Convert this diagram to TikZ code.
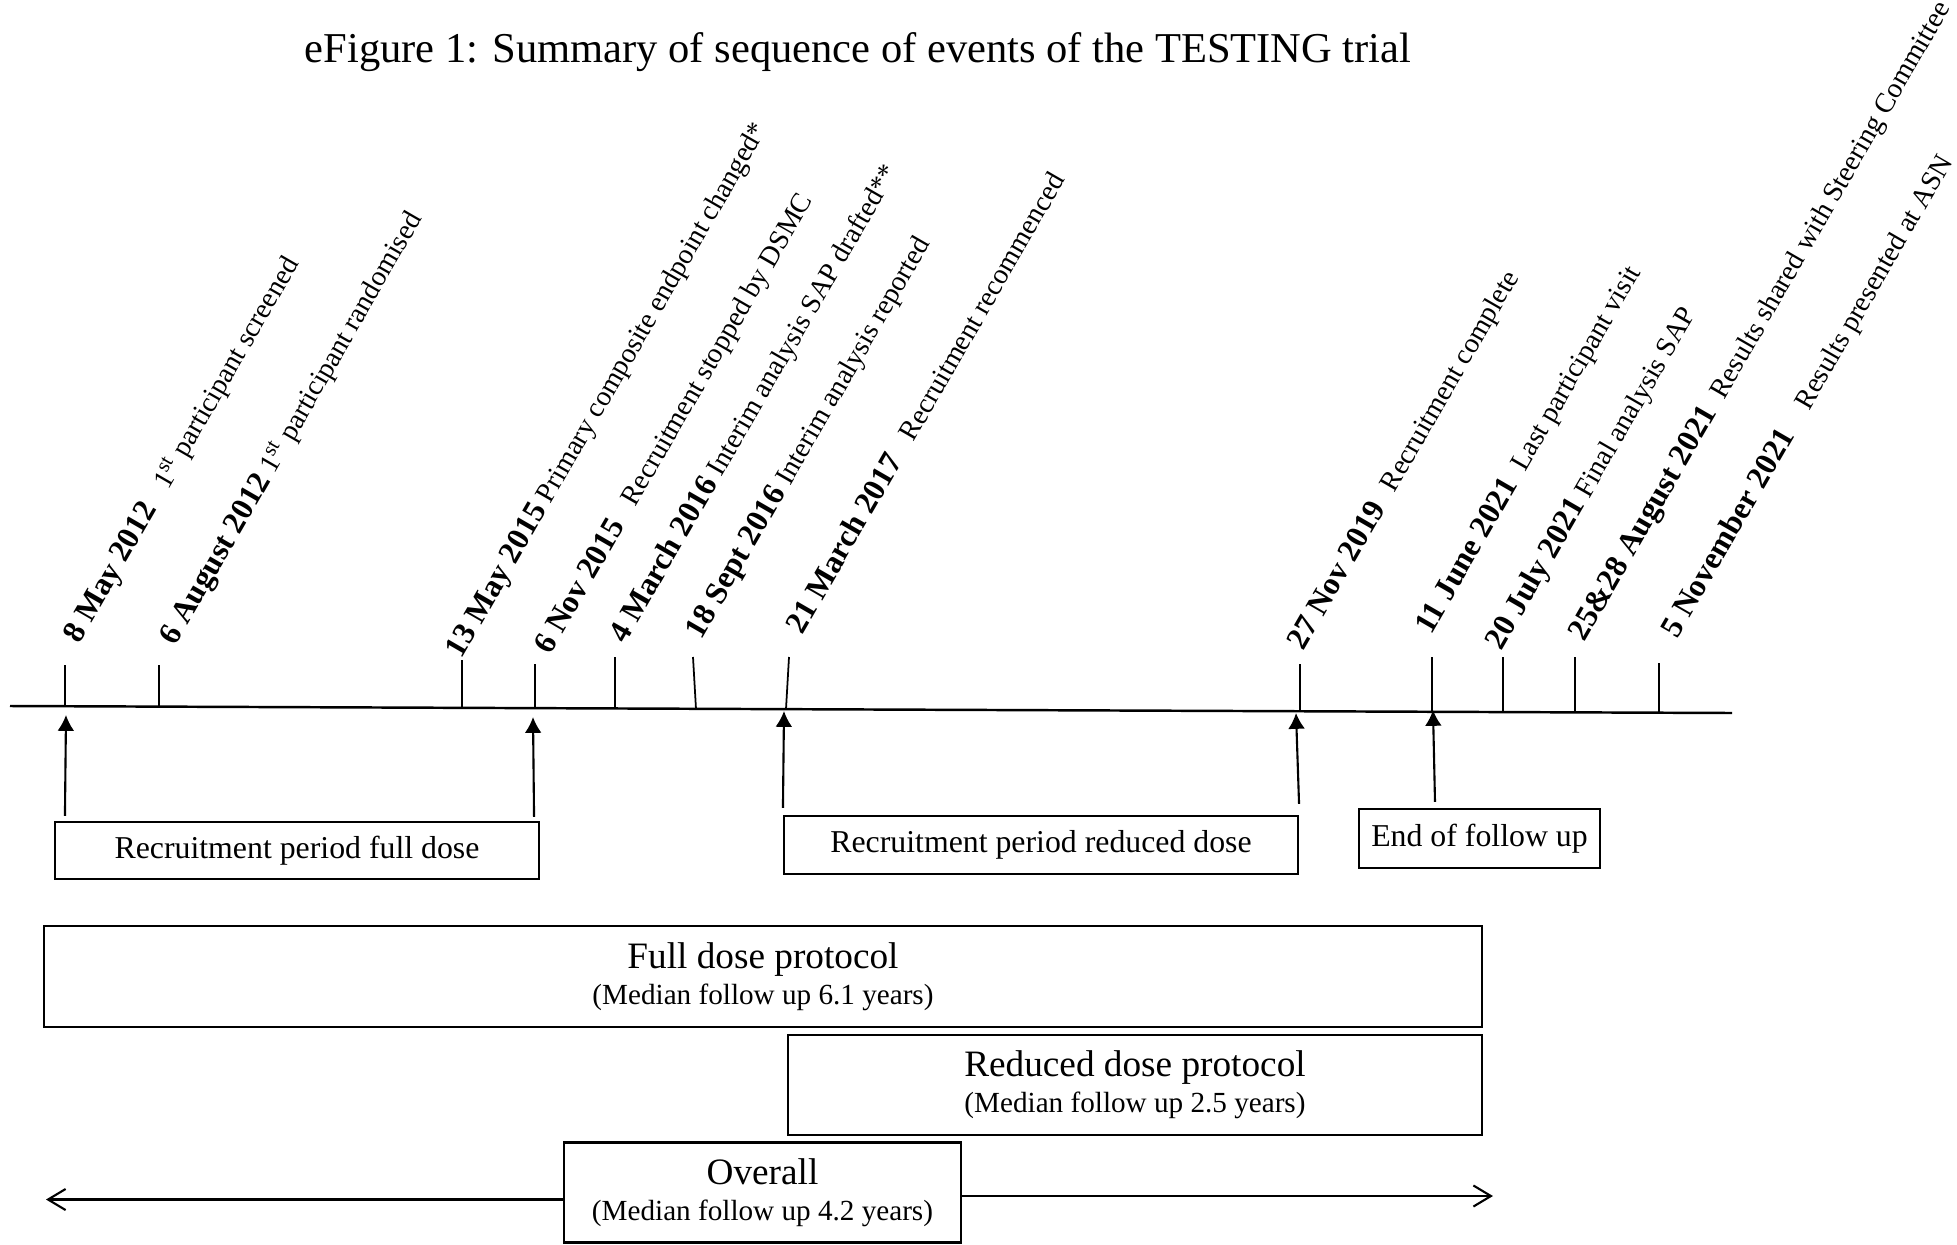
\documentclass[tikz,border=0pt]{standalone}
\usepackage{fontspec}
\setmainfont{Liberation Serif}
\usetikzlibrary{arrows.meta}

\tikzset{
  evlabel/.style={rotate=60, anchor=base west, inner sep=0pt, font=\fontsize{8}{10}\selectfont},
  periodbox/.style={draw, line width=0.6pt, inner sep=0pt, font=\fontsize{9.05}{11}\selectfont},
  protobox/.style={draw, line width=0.6pt, fill=white, inner sep=0pt, align=center, font=\fontsize{10.6}{10.2}\selectfont},
  uparrow/.style={-{Latex[length=4.5pt,width=4.8pt]}, line width=0.6pt},
  overarrow/.style={-{Straight Barb[length=5pt,width=6pt]}, line width=0.6pt},
}
\newcommand{\evdate}[1]{{\fontsize{9}{10}\selectfont\bfseries #1}}
\newcommand{\medfu}[1]{{\fontsize{8.3}{10.2}\selectfont (Median follow up #1 years)}}

\begin{document}
\begin{tikzpicture}
\useasboundingbox (0,0) rectangle (19.57,-12.44);

% Title
\node[anchor=base, font=\fontsize{12.1}{14}\selectfont] (title) at (8.58,-0.62) {eFigure 1: Summary of sequence of events of the TESTING trial};

% Time line
\coordinate (axL) at (0.10,-7.06);
\coordinate (axR) at (17.32,-7.13);
\draw[line width=0.7pt] (axL) -- (axR);

% Tick marks
\draw[line width=0.5pt] (0.65,-6.65) -- (0.65,-7.06);
\draw[line width=0.5pt] (1.59,-6.65) -- (1.59,-7.06);
\draw[line width=0.5pt] (4.62,-6.60) -- (4.62,-7.08);
\draw[line width=0.5pt] (5.35,-6.64) -- (5.35,-7.08);
\draw[line width=0.5pt] (6.15,-6.57) -- (6.15,-7.09);
\draw[line width=0.5pt] (6.93,-6.57) -- (6.96,-7.09);
\draw[line width=0.5pt] (7.89,-6.57) -- (7.86,-7.09);
\draw[line width=0.5pt] (13.00,-6.64) -- (13.00,-7.11);
\draw[line width=0.5pt] (14.32,-6.57) -- (14.32,-7.11);
\draw[line width=0.5pt] (15.03,-6.57) -- (15.03,-7.11);
\draw[line width=0.5pt] (15.75,-6.57) -- (15.75,-7.12);
\draw[line width=0.5pt] (16.59,-6.63) -- (16.59,-7.12);

% Event labels
\node[evlabel] (ev1) at (0.79,-6.45) {\evdate{8 May 2012}\hspace{6pt}1\textsuperscript{st} participant screened};
\node[evlabel] (ev2) at (1.75,-6.47) {\evdate{6 August 2012} 1\textsuperscript{st} participant randomised};
\node[evlabel] (ev3) at (4.61,-6.60) {\evdate{13 May 2015} Primary composite endpoint changed*};
\node[evlabel] (ev4) at (5.50,-6.56) {\evdate{6 Nov 2015}\hspace{6pt}Recruitment stopped by DSMC};
\node[evlabel] (ev5) at (6.25,-6.45) {\evdate{4 March 2016} Interim analysis SAP drafted**};
\node[evlabel] (ev6) at (7.01,-6.41) {\evdate{18 Sept 2016} Interim analysis reported};
\node[evlabel] (ev7) at (8.02,-6.36) {\evdate{21 March 2017}\hspace{6pt}Recruitment recommenced};
\node[evlabel] (ev8) at (13.03,-6.52) {\evdate{27 Nov 2019}\hspace{5pt}Recruitment complete};
\node[evlabel] (ev9) at (14.31,-6.36) {\evdate{11 June 2021}\hspace{4pt}Last participant visit};
\node[evlabel] (ev10) at (15.01,-6.52) {\evdate{20 July 2021} Final analysis SAP};
\node[evlabel] (ev11) at (15.84,-6.43) {\evdate{25\&28 August 2021}\hspace{4pt}Results shared with Steering Committee};
\node[evlabel] (ev12) at (16.77,-6.40) {\evdate{5 November 2021}\hspace{8pt}Results presented at ASN};

% Recruitment boxes
\node[periodbox, minimum width=4.84cm, minimum height=0.57cm] (rfull) at (2.97,-8.505) {Recruitment period full dose};
\node[periodbox, minimum width=5.14cm, minimum height=0.58cm] (rreduced) at (10.41,-8.45) {Recruitment period reduced dose};
\node[periodbox, minimum width=2.41cm, minimum height=0.59cm] (endfu) at (14.795,-8.385) {End of follow up};

% Arrows up to the time line
\coordinate (s1) at (0.66,-7.15);
\coordinate (s2) at (5.33,-7.17);
\coordinate (s3) at (7.84,-7.11);
\coordinate (s4) at (12.96,-7.13);
\coordinate (s5) at (14.33,-7.10);
\draw[uparrow] ([xshift=0.11cm,yshift=0.05cm]rfull.north west) -- (s1);
\draw[uparrow] ([xshift=-0.06cm,yshift=0.04cm]rfull.north east) -- (s2);
\draw[uparrow] ([yshift=0.07cm]rreduced.north west) -- (s3);
\draw[uparrow] ([yshift=0.11cm]rreduced.north east) -- (s4);
\draw[uparrow] ([xshift=-0.445cm,yshift=0.06cm]endfu.north) -- (s5);

% Protocol boxes
\node[protobox, minimum width=14.38cm, minimum height=1.01cm] (fullprot) at (7.63,-9.765) {Full dose protocol\\\medfu{6.1}};
\node[protobox, minimum width=6.94cm, minimum height=1.00cm] (redprot) at (11.35,-10.85) {Reduced dose protocol\\\medfu{2.5}};

% Overall follow up
\coordinate (ovL) at (0.46,-11.995);
\coordinate (ovR) at (14.93,-11.96);
\node[protobox, minimum width=3.97cm, minimum height=1.00cm] (overall) at (7.625,-11.925) {Overall\\\medfu{4.2}};
\draw[overarrow] (overall.west |- ovL) -- (ovL);
\draw[overarrow] (overall.east |- ovR) -- (ovR);
\end{tikzpicture}
\end{document}
